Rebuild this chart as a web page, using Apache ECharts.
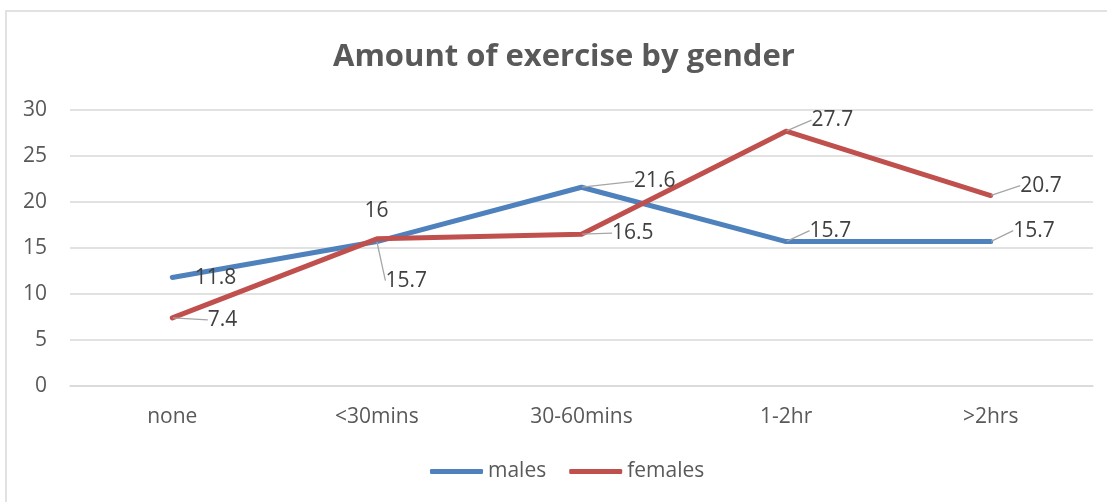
<!DOCTYPE html>
<html>
<head>
<meta charset="utf-8">
<script src="https://cdn.jsdelivr.net/npm/echarts@6/dist/echarts.min.js"></script>
<style>html,body{margin:0;padding:0;background:#fff}#c{width:1107px;height:502px}</style>
</head>
<body>
<div id="c"></div>
<script>
const categories = ['none', '<30mins', '30-60mins', '1-2hr', '>2hrs'];
const males = [11.8, 15.7, 21.6, 15.7, 15.7];
const females = [7.4, 16, 16.5, 27.7, 20.7];
const yTicks = [0, 5, 10, 15, 20, 25, 30];

// label offsets (style only): [dx, dy] relative to default right position
const maleOffsets = [[22, 1], [8, 39], [52, -6], [23, -11], [22, -11]];
const femaleOffsets = [[35, 2], [-13, -28], [30, -1], [25, -11], [29, -10]];
const maleLeader = [false, true, true, true, true];
const femaleLeader = [true, false, true, true, true];

const font = '"Open Sans", sans-serif';
const chart = echarts.init(document.getElementById('c'), null, {renderer: 'canvas'});

function mk(name, values, color, offsets, leaders) {
  return {
    name: name,
    type: 'line',
    data: values.map((v, i) => ({value: v, labelLine: {show: leaders[i]}})),
    symbol: 'circle',
    symbolSize: 1,
    showSymbol: true,
    lineStyle: {width: 5, color: color, cap: 'round', join: 'round'},
    itemStyle: {color: color},
    label: {
      show: true, position: 'right', distance: 0,
      color: '#404040', fontSize: 21, fontFamily: font
    },
    labelLine: {show: true, lineStyle: {color: '#a6a6a6', width: 1.3}},
    labelLayout: function (p) {
      const o = offsets[p.dataIndex];
      return {dx: o[0], dy: o[1]};
    },
    emphasis: {disabled: true},
    animation: false
  };
}

chart.setOption({
  animation: false,
  title: {
    text: 'Amount of exercise by gender', left: 328, top: 37,
    textStyle: {fontFamily: font, fontWeight: 'bold', fontSize: 31, color: '#595959'}
  },
  legend: {
    bottom: 15, left: 425, itemWidth: 53, itemHeight: 5, itemGap: 23,
    icon: 'roundRect',
    textStyle: {fontFamily: font, fontSize: 21, color: '#595959'},
    data: ['males', 'females']
  },
  grid: {left: 70, right: 14, top: 110, bottom: 116, containLabel: false},
  xAxis: {
    type: 'category', data: categories, boundaryGap: true,
    axisLine: {show: true, lineStyle: {color: '#d9d9d9', width: 1.5}},
    axisTick: {show: false},
    axisLabel: {fontFamily: font, fontSize: 21, color: '#595959', margin: 21}
  },
  yAxis: {
    type: 'value', min: yTicks[0], max: yTicks[yTicks.length - 1], interval: 5,
    axisLine: {show: false}, axisTick: {show: false},
    splitLine: {lineStyle: {color: '#d9d9d9', width: 1.5}},
    axisLabel: {fontFamily: font, fontSize: 21, color: '#595959', margin: 23}
  },
  graphic: [{
    type: 'rect', shape: {x: 6, y: 11, width: 1200, height: 600},
    style: {fill: 'none', stroke: '#d9d9d9', lineWidth: 1.5}, silent: true, z: -10
  }],
  series: [
    mk('males', males, '#4F81BD', maleOffsets, maleLeader),
    mk('females', females, '#C0504D', femaleOffsets, femaleLeader)
  ]
});
</script>
</body>
</html>
